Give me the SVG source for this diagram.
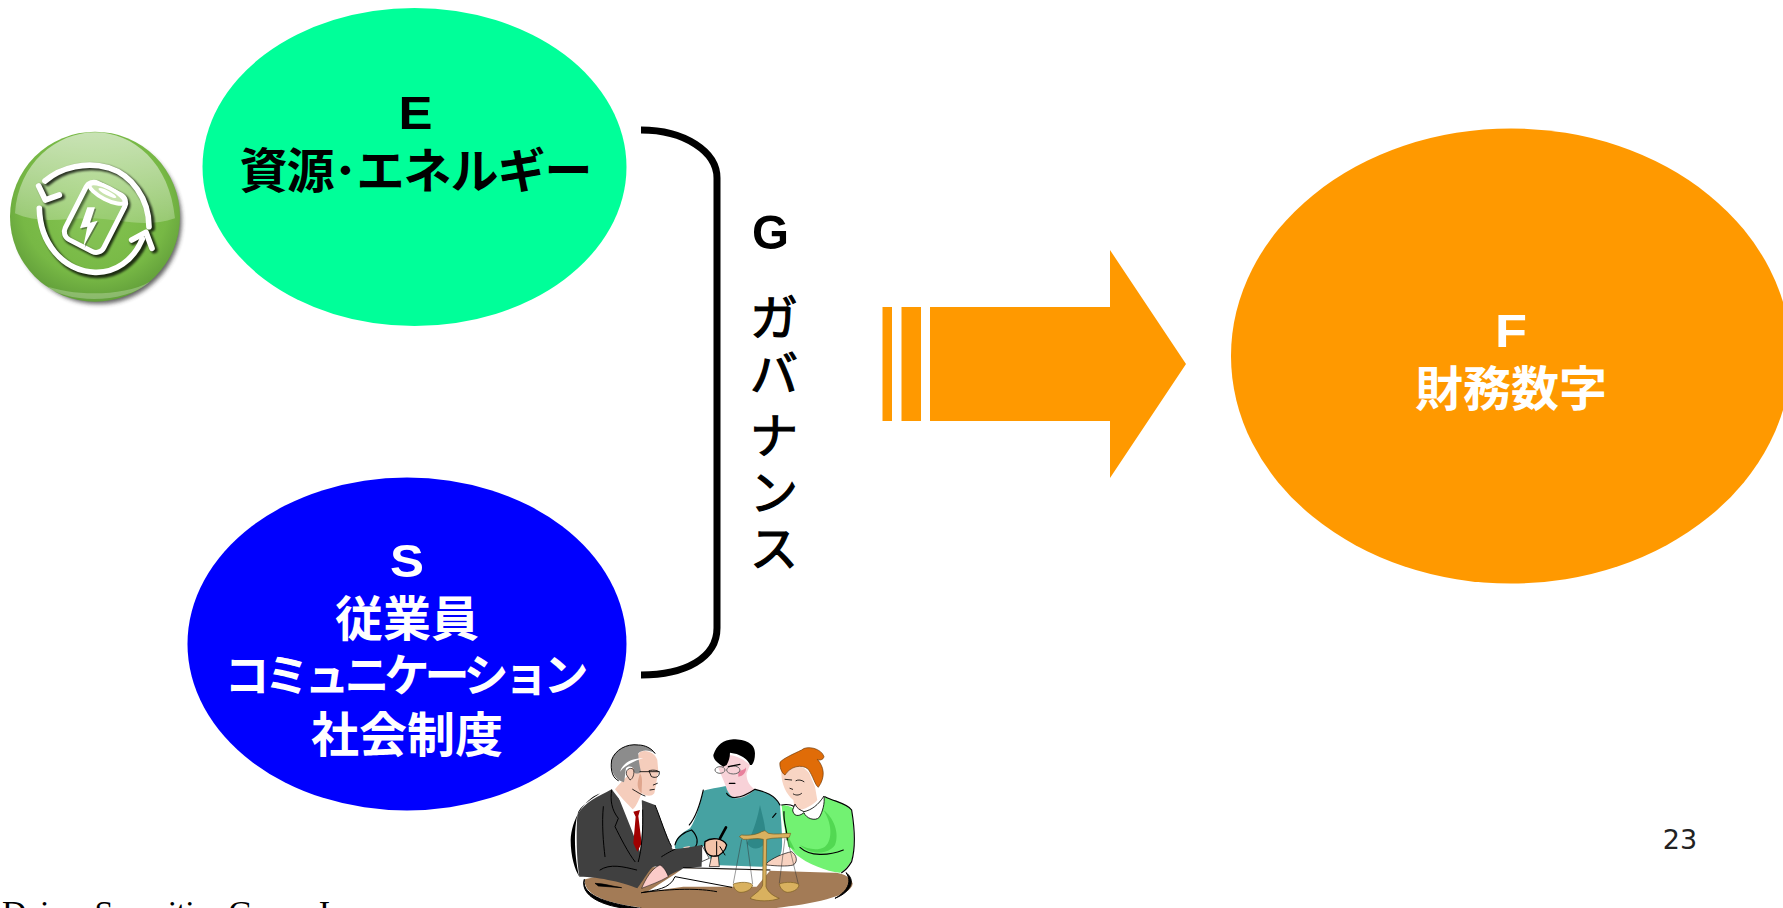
<svg xmlns="http://www.w3.org/2000/svg" width="1783" height="908" viewBox="0 0 1783 908">
<defs>
<style>
.t{font-family:"Noto Sans CJK JP","DejaVu Sans",sans-serif;font-size:48px;font-weight:700;text-anchor:middle}
.g{font-family:"Noto Sans CJK JP","DejaVu Sans",sans-serif;font-size:48px;font-weight:400;text-anchor:middle;fill:#000;stroke:#000;stroke-width:1.2px}
.l{font-family:"Liberation Sans","Noto Sans CJK JP",sans-serif;font-size:47px;font-weight:700;text-anchor:middle}
.w{fill:#fff}.k{fill:#000}
.ol{fill:none;stroke:#000;stroke-linecap:round;stroke-linejoin:round}
.wl{fill:none;stroke:#fff;stroke-linecap:round;stroke-linejoin:round}
.gold{fill:#D9B15F;stroke:#7a5e20;stroke-width:2}
</style>
<radialGradient id="ball" cx="50%" cy="42%" r="58%"><stop offset="0" stop-color="#86C552"/><stop offset=".75" stop-color="#77B845"/><stop offset="1" stop-color="#629F3A"/></radialGradient>
<linearGradient id="gloss" x1="0" y1="0" x2="0" y2="1"><stop offset="0" stop-color="#fff" stop-opacity=".75"/><stop offset="1" stop-color="#fff" stop-opacity=".3"/></linearGradient>
<filter id="blur" x="-20%" y="-20%" width="140%" height="140%"><feGaussianBlur stdDeviation="6"/></filter>
<filter id="sblur" x="-20%" y="-20%" width="140%" height="140%"><feGaussianBlur stdDeviation="2.5"/></filter>
</defs>
<rect width="1783" height="908" fill="#fff"/>

<g id="node-e"><ellipse cx="414.5" cy="167" rx="212" ry="159" fill="#00FF99"/>
<text class="l k" x="415.5" y="129" textLength="34" lengthAdjust="spacingAndGlyphs">E</text><text class="t k" x="415.5" y="188" letter-spacing="-1">資源･エネルギー</text></g>
<g id="node-s"><ellipse cx="407" cy="644" rx="219.5" ry="166.5" fill="#0000FF"/>
<text class="l w" x="407" y="577" textLength="34" lengthAdjust="spacingAndGlyphs">S</text><text class="t w" x="407" y="636">従業員</text><text class="t w" x="404" y="692" style="font-size:45px" letter-spacing="-5">コミュニケーション</text><text class="t w" x="407" y="752">社会制度</text></g>
<g id="node-f"><ellipse cx="1511" cy="356" rx="280" ry="227.5" fill="#FF9900"/>
<text class="l w" x="1511" y="347" textLength="32" lengthAdjust="spacingAndGlyphs">F</text><text class="t w" x="1511" y="406">財務数字</text></g>

<g id="connectors">
<path id="bracket" d="M641 130C685 130 717 152 717 178V628C717 658 685 675 641 675" fill="none" stroke="#000" stroke-width="7"/>
<g id="big-arrow" fill="#FF9900"><rect x="882.5" y="307" width="9.5" height="114"/><rect x="901.5" y="307" width="19.5" height="114"/><path d="M930 307H1110V250L1186 364L1110 478V421H930Z"/></g>
</g>

<g id="label-g"><text class="l k" x="770.5" y="249" textLength="37" lengthAdjust="spacingAndGlyphs" style="font-size:49px">G</text><text class="g" x="774" y="335">ガ</text><text class="g" x="774" y="391">バ</text><text class="g" x="774" y="453">ナ</text><text class="g" x="774" y="510">ン</text><text class="g" x="774" y="566">ス</text></g>

<g id="icon" transform="translate(0 100) scale(.3333)">
<circle cx="295" cy="362" r="250" fill="#333" opacity=".75" filter="url(#blur)"/>
<circle cx="285" cy="350" r="255" fill="url(#ball)"/>
<path d="M45 340C55 190 170 97 285 97C400 97 510 190 525 355C440 385 350 358 285 355C200 352 120 375 45 340Z" fill="url(#gloss)" opacity=".8"/>
<path d="M130 555C200 610 370 615 450 545C370 590 220 590 130 555Z" fill="#fff" opacity=".25"/>
<g filter="url(#sblur)" opacity=".75"><g class="ol" stroke-width="20"><path d="M143 248C190 205 265 190 330 208C400 230 455 300 455 385"/><path d="M125 330C128 430 190 520 290 525C350 527 405 490 435 425"/><path d="M123 262L143 305L185 290"/><path d="M400 425L445 402L463 450"/></g>
<g transform="translate(5 6) rotate(27 285 352)"><rect x="220" y="257" width="130" height="190" rx="26" fill="none" stroke="#000" stroke-width="18"/></g></g>
<g class="wl" stroke-width="17"><path d="M135 243C185 200 260 185 325 203C395 225 447 295 447 380"/><path d="M118 325C120 425 185 512 285 517C345 519 400 482 427 417"/><path d="M116 258L136 300L178 285"/><path d="M395 420L438 397L456 445"/></g>
<g transform="rotate(27 285 352)"><rect x="220" y="257" width="130" height="190" rx="26" fill="#8CC760" fill-opacity=".35" stroke="#fff" stroke-width="15"/><ellipse cx="285" cy="272" rx="58" ry="18" fill="#C7E2AC" stroke="#fff" stroke-width="12"/><ellipse cx="285" cy="270" rx="30" ry="7" fill="#fff"/></g>
<path d="M262 322L240 385L262 380L250 440L293 362L270 368L285 322Z" fill="#333" opacity=".5" transform="translate(4 4)"/>
<path d="M262 322L240 385L262 380L250 440L293 362L270 368L285 322Z" fill="#fff"/>
</g>

<g id="people" transform="translate(540 720) scale(.3333)">
<!-- table -->
<path d="M135 478C128 520 190 548 300 562V575H700V565C800 555 940 530 938 490C930 465 900 458 880 458L300 440Z" fill="#A37B56"/>
<path d="M133 478C122 530 215 553 310 566C230 572 115 540 133 478Z" class="k" stroke="#000" stroke-width="3"/>
<path d="M918 458C948 480 935 515 885 535C922 515 938 485 918 458Z" class="k" stroke="#000" stroke-width="3"/>
<path d="M165 490C190 490 220 500 245 503L175 498Z" class="k" stroke="#000" stroke-width="2"/>

<g transform="translate(480 30)"><!-- woman -->
<path d="M245 225C270 225 290 240 300 245C330 250 355 225 372 200C400 210 440 220 455 240C462 300 465 360 455 390C445 410 430 425 420 428C380 425 320 400 290 375C275 360 255 340 245 225Z" fill="#72F272"/>
<path d="M370 240C395 275 400 330 375 350C350 365 320 355 300 345C330 375 385 375 405 345C420 310 400 260 370 240ZM255 300L285 360L265 350Z" fill="#52D852"/>
<path d="M375 200C405 215 445 222 455 240C465 300 465 360 455 395C445 412 432 424 425 428M252 245C250 280 262 300 262 330M300 352C330 380 385 378 430 360M245 225C258 222 275 225 285 230" class="ol" stroke-width="3.5"/>
<path d="M245 115C240 150 255 190 280 210L285 240C305 245 340 225 352 210L345 170L328 130C300 95 260 95 245 115Z" fill="#F8D5C4"/>
<path d="M278 240C280 258 295 262 312 248C318 265 345 275 358 262C368 245 375 220 372 198C355 225 335 240 312 245C300 240 290 235 285 222Z" fill="#fff" stroke="#000" stroke-width="2.5"/>
<path d="M305 60C320 45 365 55 372 80C370 90 358 92 352 88C372 110 378 140 355 172C345 165 340 140 325 118C305 100 270 110 255 135C245 130 238 110 240 97C250 85 280 72 305 60Z" fill="#E06C08" stroke="#6e3500" stroke-width="2"/>
<path d="M288 152C295 148 305 150 312 155M255 148L275 150M280 192C290 198 300 195 305 190M270 175L278 178" class="ol" stroke-width="2.5"/>
</g>
<!-- middle man -->
<path d="M490 212C520 205 545 200 560 198C580 225 610 235 645 208C675 215 705 225 720 255C725 320 730 380 723 400C715 420 695 435 665 440L520 435L495 380C470 375 440 390 425 395L405 385C402 355 425 340 450 325C470 295 480 250 490 212Z" fill="#46A2A2"/>
<g transform="translate(480 30)">
<path d="M140 340C165 300 175 250 180 225C190 270 205 310 190 345C175 360 155 360 140 340Z" fill="#2E8888"/>
<path d="M165 178C195 185 225 195 240 225M218 262L228 250" class="ol" stroke-width="3.5"/>
<path d="M70 105L85 75C100 75 130 85 150 105L140 130C138 150 150 170 165 178C150 192 130 205 110 205C100 205 85 195 78 170C70 150 60 125 55 115Z" fill="#F8D2D8"/>
<path d="M115 125C125 120 135 120 138 112C140 125 130 140 115 140Z" fill="#E8809C"/>
<path d="M40 75C50 45 70 30 100 28C135 28 165 40 165 70C165 90 160 100 155 105L150 105C145 90 130 80 110 72L90 68C90 85 85 95 80 105L70 110C55 100 40 90 40 75Z" fill="#000"/>
<ellipse cx="60" cy="120" rx="15" ry="10" fill="none" stroke="#666" stroke-width="3"/><ellipse cx="100" cy="120" rx="20" ry="12" fill="none" stroke="#666" stroke-width="3"/>
<path d="M85 110L120 103M88 160L105 160M80 190C90 205 115 212 165 178" class="ol" stroke-width="3.5"/>
<path d="M60 325L78 292" class="ol" stroke-width="8"/>
</g>
<!-- man in suit -->
<g transform="translate(60 30)">
<path d="M395 300C415 320 415 340 405 352M345 345C350 320 375 305 395 300M430 180C420 225 405 265 388 285" class="ol" stroke-width="3.5"/>
<path d="M368 352L390 348L385 358Z" fill="#FBD5C8"/>
<path d="M52 255C75 215 115 200 155 178L215 255L245 210L285 225C300 260 320 320 338 358C370 355 400 350 425 345C428 370 425 395 425 410C385 412 350 420 320 440C300 410 285 400 270 420C255 440 240 465 232 475C200 460 120 440 58 440C50 390 48 310 52 255Z" fill="#404040"/>
<path d="M120 190C70 210 35 270 32 330C32 380 45 420 58 440C45 390 38 300 55 245C70 220 100 205 120 190Z" class="k"/>
<path d="M285 225C300 260 318 320 335 350" fill="none" stroke="#000" stroke-width="3"/>
<path d="M165 175C185 200 205 225 218 238L245 205C248 260 248 320 240 365L215 300Z" fill="#fff"/>
<path d="M220 245L240 240L235 258L245 340L232 365L220 340L227 260Z" fill="#A00000"/>
<path d="M155 180C150 210 155 240 175 265L165 290C180 320 205 370 225 395M248 240C250 300 245 360 235 395M120 420C150 400 190 410 230 420M300 410C310 420 325 430 320 440M305 380C320 370 340 360 345 358M130 230C125 280 130 340 135 380" class="ol" stroke-width="3"/>
<path d="M245 475C255 450 275 415 300 405C310 410 320 425 325 440C300 455 270 465 245 475Z" fill="#FBCBC8" stroke="#000" stroke-width="1.5"/>
<path d="M165 178C175 165 185 155 190 150L205 135L240 65C265 58 285 70 292 90L295 125L292 140L288 165L283 190C275 200 260 200 245 190C235 215 225 235 218 238C200 220 180 200 165 178Z" fill="#F5CDBC"/>
<path d="M240 130C235 150 225 170 245 190C245 165 250 145 240 130Z" fill="#DFA68E"/>
<path d="M235 45C200 40 165 60 155 90C150 125 165 150 192 157C195 145 195 130 198 115C205 105 225 110 222 125C225 135 240 130 243 125C238 105 235 85 235 70C245 60 265 58 285 70C275 55 255 45 235 45Z" fill="#8C8C8C"/>
<path d="M285 70C275 55 255 45 235 45C200 40 165 60 155 90C150 125 160 145 175 152" class="ol" stroke-width="3"/>
<path d="M180 125C190 95 220 85 250 85C225 92 195 105 180 125Z" fill="#fff"/>
<path d="M200 135C195 120 210 110 220 118C225 130 218 148 210 150Z" fill="#F5CDBC" stroke="#000" stroke-width="2"/>
<path d="M240 125L298 125M268 122C280 118 298 122 298 128C298 142 285 145 275 140ZM218 178C230 185 245 195 255 198M270 180L283 178M292 160L280 165" class="ol" stroke-width="2.5"/>
</g>
<!-- paper -->
<path d="M320 516C355 495 395 470 430 445L690 452L650 500H430Z" fill="#fff"/>
<path d="M305 518C345 510 390 508 405 470L575 502M305 518C400 505 480 505 530 515M430 443L690 450" class="ol" stroke-width="3"/>
<g transform="translate(480 30)">
<!-- hands -->
<path d="M200 400C215 385 250 370 275 365C290 375 295 395 280 405C260 410 230 408 200 405Z" fill="#F8D2C0" stroke="#000" stroke-width="2"/>
<path d="M28 410L35 378L55 378L58 410Z" fill="#F8D2C0" stroke="#000" stroke-width="2"/>
<path d="M5 345L28 385L5 395Z" fill="#fff" stroke="#000" stroke-width="2"/>
<path d="M15 335C35 320 70 325 80 345C78 360 60 380 45 378C25 380 10 365 15 335Z" fill="#F3C3A8" stroke="#000" stroke-width="4"/>
<path d="M50 335V375M60 350L75 375" class="ol" stroke-width="3"/>
<!-- scales -->
<path d="M125 328L100 460M140 328L158 462M255 325L238 460M262 325L295 462" fill="none" stroke="#333" stroke-width="1.5"/>
<path class="gold" d="M118 320L125 315C150 318 175 312 185 305L195 302L205 310C225 315 250 310 272 310L268 322C245 325 220 322 200 328L198 470C205 490 225 500 238 505C215 515 170 515 150 505C165 490 185 480 188 465L190 328C170 322 145 330 130 328Z"/>
<path class="gold" d="M100 462C120 455 150 455 158 465C155 480 135 488 120 487C110 485 100 475 100 462ZM238 462C255 455 290 455 297 465C295 480 275 487 262 487C250 485 240 475 238 462Z"/>
</g>
</g>

<text id="page" x="1680" y="849" font-family="DejaVu Sans, sans-serif" font-size="27" text-anchor="middle" fill="#222">23</text>
<text id="footer" x="2" y="924" font-family="Liberation Serif, serif" font-size="34" letter-spacing="-.8" fill="#000">Daiwa Securities Group Inc</text>
</svg>
